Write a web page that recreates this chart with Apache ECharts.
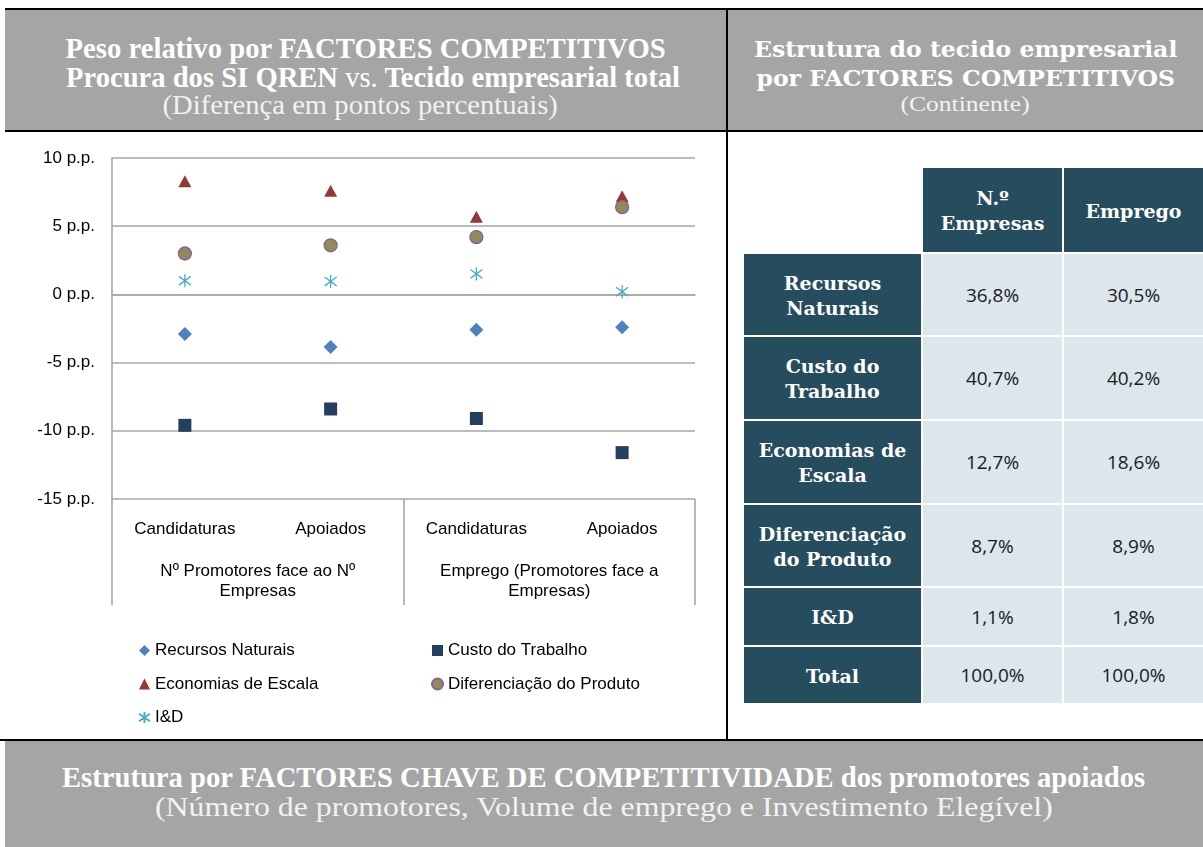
<!DOCTYPE html>
<html lang="pt">
<head>
<meta charset="utf-8">
<title>Factores competitivos</title>
<script src="https://cdn.jsdelivr.net/npm/echarts@6/dist/echarts.min.js"></script>
<style>
  html, body { margin: 0; padding: 0; background: #fff; }
  body { width: 1203px; height: 847px; position: relative; overflow: hidden; }
  .rule { position: absolute; background: #000; }
  .band { position: absolute; background: #A5A5A5; }
  .ttl { position: absolute; text-align: center; white-space: nowrap; color: #fff; line-height: 1; }
  .ttl span { display: inline-block; transform-origin: 50% 50%; }
  #chart { position: absolute; left: 0; top: 132px; width: 726px; height: 608px; }
  .cell { position: absolute; display: flex; align-items: center; justify-content: center;
          text-align: center; white-space: pre-line; box-sizing: border-box; }
  .dark { background: #264D5E; color: #fff; font-family: "DejaVu Serif", serif; font-weight: bold;
          font-size: 19px; line-height: 25px; padding-top: 2px; }
  .light { background: #DBE7ED; color: #1a1a1a; font-family: "Open Sans", sans-serif; font-size: 19px; }
</style>
</head>
<body>
<div id="chart"></div>
<script>
// ---- dados do gráfico (diferença em p.p.) ----
const categorias = ['Candidaturas', 'Apoiados', 'Candidaturas', 'Apoiados']
const grupos = ['Nº Promotores face ao Nº\nEmpresas', 'Emprego (Promotores face a\nEmpresas)']

const recursosNaturais = [-2.9, -3.85, -2.6, -2.4]
const custoTrabalho = [-9.6, -8.4, -9.1, -11.6]
const economiasEscala = [8.3, 7.6, 5.7, 7.2]
const diferenciacaoProduto = [3.0, 3.6, 4.2, 6.4]
const investigacaoDesenv = [1.0, 0.95, 1.5, 0.2]

const yMin = -15
const yMax = 10
const yPasso = 5
const ySufixo = ' p.p.'

// ---- dados da tabela ----
const tabelaColunas = ['N.º\nEmpresas', 'Emprego']
const tabelaFactores = ['Recursos\nNaturais', 'Custo do\nTrabalho', 'Economias de\nEscala', 'Diferenciação\ndo Produto', 'I&D', 'Total']
const pesoEmpresas = [36.8, 40.7, 12.7, 8.7, 1.1, 100.0]
const pesoEmprego = [30.5, 40.2, 18.6, 8.9, 1.8, 100.0]

// ---- moldura: linhas e faixas cinzentas ----
const box = (cls, x, y, w, h) => {
  const d = document.createElement('div')
  d.className = cls
  Object.assign(d.style, { left: x + 'px', top: y + 'px', width: w + 'px', height: h + 'px' })
  document.body.appendChild(d)
  return d
}
box('band', 5, 10, 721, 120)
box('band', 728, 10, 475, 120)
box('band', 5, 741, 1198, 106)
box('rule', 5, 8, 1198, 2)
box('rule', 5, 130, 1198, 2)
box('rule', 726, 8, 2, 733)
box('rule', 0, 739, 1203, 2)

// linha de título ajustada à largura do original
const titulo = (x, w, cy, html, font, size, larg, cor) => {
  const d = document.createElement('div')
  d.className = 'ttl'
  Object.assign(d.style, { left: x + 'px', width: w + 'px', top: (cy - size / 2) + 'px',
    font: font.replace('SZ', size + 'px'), color: cor || '#fff' })
  const s = document.createElement('span')
  s.innerHTML = html
  d.appendChild(s)
  document.body.appendChild(d)
  s.style.transform = 'scaleX(' + (larg / s.offsetWidth) + ')'
}
const fCond = 'bold SZ "Liberation Serif", serif'
const fCondReg = 'SZ "Liberation Serif", serif'
const fLarga = 'bold SZ "DejaVu Serif", serif'

titulo(5, 721, 46, 'Peso relativo por FACTORES COMPETITIVOS', fCond, 30, 600)
titulo(12, 721, 75, 'Procura dos SI QREN <span style="font-weight:normal">vs.</span> Tecido empresarial total', fCond, 30, 614)
titulo(0, 721, 103, '(Diferença em pontos percentuais)', fCondReg, 28, 395, '#f2f2f2')
titulo(728, 475, 46, 'Estrutura do tecido empresarial', fLarga, 23, 423)
titulo(728, 475, 75, 'por FACTORES COMPETITIVOS', fLarga, 23, 419)
titulo(728, 475, 102, '(Continente)', fCondReg, 21, 129, '#f2f2f2')
titulo(5, 1198, 775, 'Estrutura por FACTORES CHAVE DE COMPETITIVIDADE dos promotores apoiados', fCond, 30, 1083)
titulo(5, 1198, 805, '(Número de promotores, Volume de emprego e Investimento Elegível)', fCondReg, 28, 898, '#f2f2f2')

// ---- tabela ----
const colX = [744, 923, 1064]
const colW = [177, 139, 139]
const rowY = [168, 254, 337, 421, 505, 588, 647]
const rowH = [84, 81, 82, 82, 81, 57, 56]
const fmt = (v) => v.toFixed(1).replace('.', ',') + '%'

tabelaColunas.forEach((c, i) => {
  box('cell dark', colX[i + 1], rowY[0], colW[i + 1], rowH[0]).textContent = c
})
tabelaFactores.forEach((f, r) => {
  box('cell dark', colX[0], rowY[r + 1], colW[0], rowH[r + 1]).textContent = f
  box('cell light', colX[1], rowY[r + 1], colW[1], rowH[r + 1]).textContent = fmt(pesoEmpresas[r])
  box('cell light', colX[2], rowY[r + 1], colW[2], rowH[r + 1]).textContent = fmt(pesoEmprego[r])
})

// ---- gráfico de dispersão ----
const chart = echarts.init(document.getElementById('chart'))

const cinza = '#A6A6A6'
const txt = { color: '#000', fontFamily: '"Liberation Sans", Arial, sans-serif', fontSize: 17 }
const asterisco = 'path://M5,0L5,10M0,1.6L10,8.4M0,8.4L10,1.6'

const series = [
  { name: 'Recursos Naturais', data: recursosNaturais, symbol: 'diamond', symbolSize: 14,
    itemStyle: { color: '#4F81BD' } },
  { name: 'Custo do Trabalho', data: custoTrabalho, symbol: 'rect', symbolSize: 13,
    itemStyle: { color: '#243F60' } },
  { name: 'Economias de Escala', data: economiasEscala, symbol: 'triangle', symbolSize: [13, 12],
    itemStyle: { color: '#953735' } },
  { name: 'Diferenciação do Produto', data: diferenciacaoProduto, symbol: 'circle', symbolSize: 13,
    itemStyle: { color: '#948A54', borderColor: '#8064A2', borderWidth: 1.3 } },
  { name: 'I&D', data: investigacaoDesenv, symbol: asterisco, symbolSize: [12, 13],
    itemStyle: { color: '#4BACC6', borderColor: '#4BACC6', borderWidth: 1.4 } },
].map((s) => ({
  ...s,
  type: 'scatter',
  xAxisIndex: 0,
  itemStyle: { ...s.itemStyle, opacity: 1 },
  emphasis: { disabled: true },
}))

const legenda = (left, nomes) => ({
  orient: 'vertical',
  left: left,
  top: 505,
  itemWidth: 11,
  itemHeight: 11,
  itemGap: 16.5,
  textStyle: { ...txt },
  selectedMode: false,
  data: nomes,
})

chart.setOption({
  animation: false,
  grid: { left: 112, top: 26, width: 583, height: 341 },
  legend: [
    legenda(133, ['Recursos Naturais', 'Economias de Escala', 'I&D']),
    legenda(426, ['Custo do Trabalho', 'Diferenciação do Produto']),
  ],
  xAxis: [
    {
      type: 'category',
      position: 'bottom',
      data: categorias,
      axisLine: { show: true, lineStyle: { color: cinza, width: 1.6 } },
      axisTick: { show: false },
      axisLabel: { ...txt, margin: 22, interval: 0 },
    },
    {
      type: 'category',
      position: 'bottom',
      offset: 0,
      data: grupos,
      axisLine: { show: false },
      axisTick: { show: true, length: 106, lineStyle: { color: cinza, width: 1.6 } },
      axisLabel: { ...txt, margin: 62, lineHeight: 20, interval: 0 },
    },
  ],
  yAxis: {
    type: 'value',
    min: yMin,
    max: yMax,
    interval: yPasso,
    axisLine: { show: true, lineStyle: { color: cinza, width: 1.6 } },
    axisTick: { show: false },
    axisLabel: { ...txt, margin: 17, formatter: (v) => v + ySufixo },
    splitLine: { lineStyle: { color: cinza, width: 1.6 } },
  },
  series: series,
})
</script>
</body>
</html>
